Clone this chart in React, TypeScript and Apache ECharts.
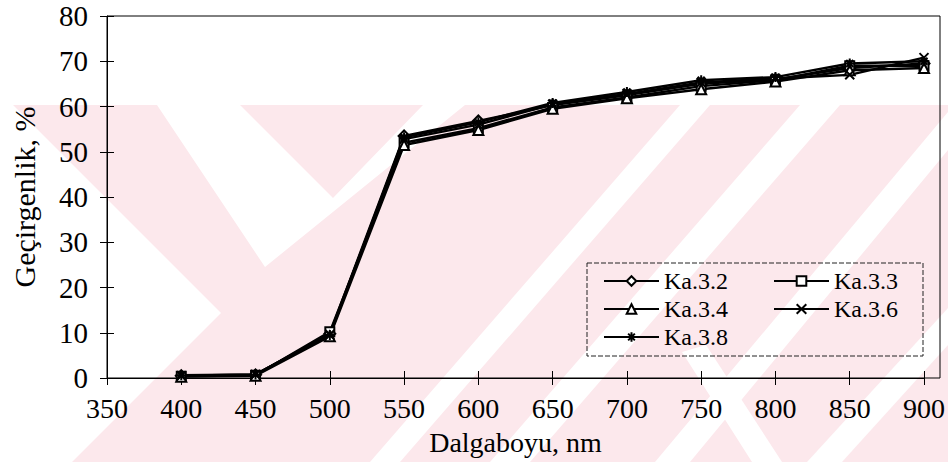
import React, { useEffect, useRef } from "react";
import * as echarts from "echarts";

const wavelengths = [400, 450, 500, 550, 600, 650, 700, 750, 800, 850, 900];
const ka32 = [0.5, 0.7, 9.8, 53.5, 56.8, 60.3, 62.5, 65.0, 66.0, 68.5, 69.5];
const ka33 = [0.4, 0.6, 10.2, 52.0, 55.2, 59.8, 62.0, 64.5, 65.8, 69.0, 69.0];
const ka34 = [0.3, 0.5, 9.2, 51.5, 54.8, 59.5, 61.8, 63.8, 65.5, 68.0, 68.5];
const ka36 = [0.5, 0.8, 9.6, 52.8, 56.0, 60.5, 62.8, 65.3, 66.2, 67.0, 70.8];
const ka38 = [0.6, 0.8, 9.5, 53.2, 56.5, 60.8, 63.2, 65.8, 66.5, 69.5, 70.0];
const seriesNames = ["Ka.3.2", "Ka.3.3", "Ka.3.4", "Ka.3.6", "Ka.3.8"];

const FONT = "Liberation Serif";
const PINK = "#fce8ec";

const X_SYMBOL = "path://M0,0L10,10M10,0L0,10";
const STAR_SYMBOL = "path://M5,0L5,10M1.5,1.5L8.5,8.5M8.5,1.5L1.5,8.5M0,5L10,5";

export default function App() {
  const ref = useRef<HTMLDivElement>(null);

  useEffect(() => {
    if (!ref.current) return;
    const chart = echarts.init(ref.current, undefined, { renderer: "svg" });

    const mk = (name: string, vals: number[], symbol: string, size: number) => ({
      name,
      type: "line",
      xAxisIndex: 0,
      yAxisIndex: 0,
      data: wavelengths.map((w, i) => [w, vals[i]]),
      symbol,
      symbolSize: size,
      showSymbol: true,
      lineStyle: { color: "#000", width: 2.4 },
      itemStyle: { color: "#000", borderColor: "#000", borderWidth: 2 },
      z: 3,
    });

    const whiteShapes: number[][][] = [
      [[0, 105], [13, 105], [221, 313], [72, 462], [0, 462]],
      [[157, 105], [240, 105], [333, 198], [423, 105], [465, 105], [265, 267]],
      [[680, 105], [710, 105], [400, 462], [370, 462]],
      [[800, 105], [840, 105], [530, 462], [490, 462]],
      [[655, 462], [690, 462], [948, 150], [948, 112]],
      [[807, 462], [842, 462], [948, 345], [948, 308]],
      [[682, 352], [706, 345], [782, 462], [752, 462]],
    ];

    const graphics: any[] = [
      {
        type: "rect",
        z: -10,
        silent: true,
        shape: { x: 13, y: 105, width: 935, height: 357 },
        style: { fill: PINK },
      },
      ...whiteShapes.map((pts) => ({
        type: "polygon",
        z: -9,
        silent: true,
        shape: { points: pts },
        style: { fill: "#fff" },
      })),
      {
        type: "rect",
        z: 1,
        silent: true,
        shape: { x: 107, y: 16, width: 833, height: 362 },
        style: { fill: "none", stroke: "#000", lineWidth: 1 },
      },
      {
        type: "rect",
        z: 1,
        silent: true,
        shape: { x: 587, y: 263, width: 336, height: 93 },
        style: { fill: "none", stroke: "#222", lineWidth: 1, lineDash: [5, 2] },
      },
    ];

    const axisLabelStyle = { fontSize: 28, fontFamily: FONT, color: "#000" };

    const legendBase = {
      orient: "vertical",
      top: 269,
      itemWidth: 55,
      itemHeight: 12,
      itemGap: 4,
      padding: 0,
      textStyle: { fontSize: 24, fontFamily: FONT, color: "#000" },
    };

    chart.setOption({
      animation: false,
      backgroundColor: "#fff",
      textStyle: { fontFamily: FONT },
      grid: { left: 107, right: 21, top: 16, bottom: 91, containLabel: false },
      graphic: graphics,
      legend: [
        { ...legendBase, left: 603, data: ["Ka.3.2", "Ka.3.4", "Ka.3.8"] },
        { ...legendBase, left: 773, data: ["Ka.3.3", "Ka.3.6"] },
      ],
      xAxis: [
        {
          type: "value",
          position: "bottom",
          min: 350,
          max: 900,
          interval: 50,
          axisLine: { show: true, lineStyle: { color: "#000", width: 1 } },
          axisTick: { show: true, length: 7, lineStyle: { color: "#000" } },
          axisLabel: { ...axisLabelStyle, margin: 16 },
          splitLine: { show: false },
          name: "Dalgaboyu, nm",
          nameLocation: "middle",
          nameGap: 50,
          nameTextStyle: { fontSize: 28, fontFamily: FONT, color: "#000" },
        },
        {
          type: "value",
          position: "bottom",
          min: 350,
          max: 900,
          interval: 50,
          axisLine: { show: false },
          axisTick: { show: true, inside: true, length: 7, lineStyle: { color: "#000" } },
          axisLabel: { show: false },
          splitLine: { show: false },
        },
      ],
      yAxis: [
        {
          type: "value",
          position: "left",
          min: 0,
          max: 80,
          interval: 10,
          axisLine: { show: true, lineStyle: { color: "#000", width: 1 } },
          axisTick: { show: true, length: 7, lineStyle: { color: "#000" } },
          axisLabel: { ...axisLabelStyle, fontSize: 29, margin: 19 },
          splitLine: { show: false },
          name: "Geçirgenlik, %",
          nameLocation: "middle",
          nameGap: 68,
          nameTextStyle: { fontSize: 30, fontFamily: FONT, color: "#000" },
        },
        {
          type: "value",
          position: "left",
          min: 0,
          max: 80,
          interval: 10,
          axisLine: { show: false },
          axisTick: { show: true, inside: true, length: 7, lineStyle: { color: "#000" } },
          axisLabel: { show: false },
          splitLine: { show: false },
        },
      ],
      series: [
        mk(seriesNames[0], ka32, "emptyDiamond", 11),
        mk(seriesNames[1], ka33, "emptyRect", 9),
        mk(seriesNames[2], ka34, "emptyTriangle", 10),
        mk(seriesNames[3], ka36, X_SYMBOL, 9),
        mk(seriesNames[4], ka38, STAR_SYMBOL, 10),
      ],
    });

    return () => chart.dispose();
  }, []);

  return (
    <div
      ref={ref}
      style={{ position: "fixed", left: 0, top: 0, width: 948, height: 469, background: "#fff" }}
    />
  );
}
